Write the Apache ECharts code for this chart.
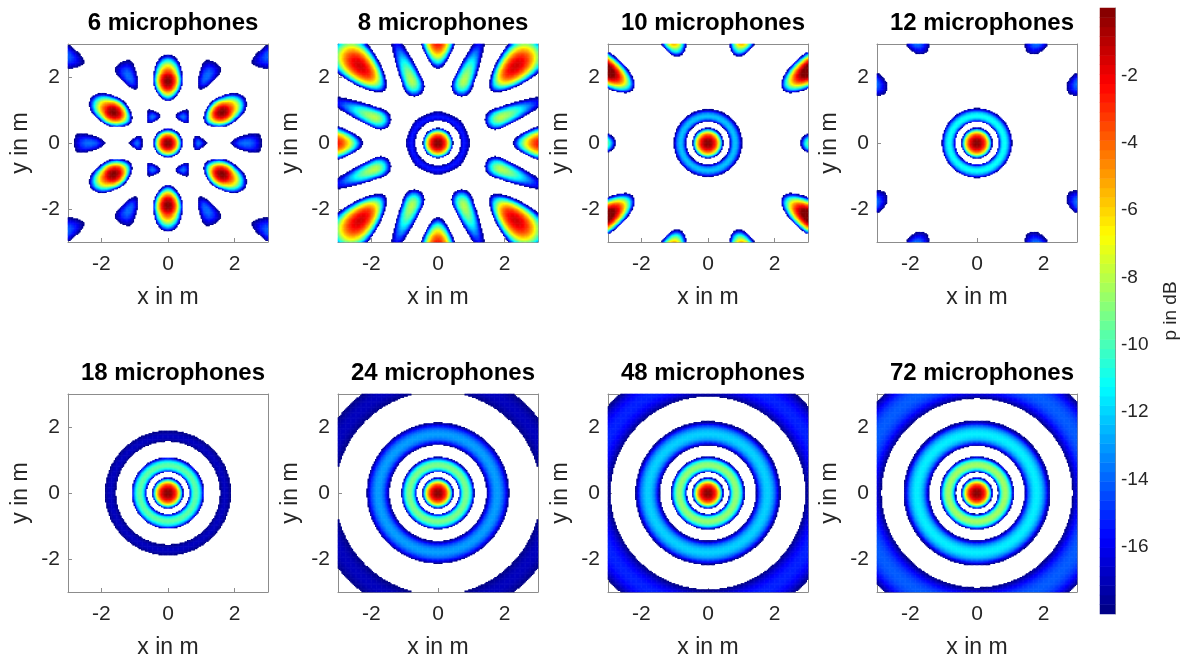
<!DOCTYPE html>
<html><head><meta charset="utf-8">
<script src="https://cdn.jsdelivr.net/npm/echarts@6/dist/echarts.min.js"></script>
<style>html,body{margin:0;padding:0;background:#fff}#c{width:1200px;height:664px}</style>
</head><body><div id="c"></div>
<script>
// ---- data / parameters ----
const mics       = [6, 8, 10, 12, 18, 24, 48, 72];
const titles     = ['6 microphones','8 microphones','10 microphones','12 microphones','18 microphones','24 microphones','48 microphones','72 microphones'];
const ringAtten  = [25, 11, 6.3, 4.5, 2.3, 1.4, 0.9, 0.6];  // ring attenuation coefficient (dB)
const ringExp    = [2, 2, 2, 2, 1.8, 1, 1, 1];
const aliasSharp = [2.3, 2.2, 3.5, 2.3, 0, 0, 0, 0];       // 0 = no aliasing lobes
const aliasOffset= [0, 1, 11, 5, 0, 0, 0, 0];              // dB
const micRotation= [0, 22.5, 0, 15, 0, 0, 0, 0];           // degrees
// radial positions (m) read off the 72-microphone panel and the matching field phase
const ringRadii  = [0, 0.45, 0.65, 1.1, 1.5, 2.15, 2.9, 4.3];
const ringPhase  = [0, 2.1, 2.7, 5.1, 6.1, 8.0, 9.3, 11.3];
const axisTicks  = [-2, 0, 2];
const cbTicks    = [-16, -14, -12, -10, -8, -6, -4, -2];
const dbRange    = [-18, 0];
const gridN = 161, extent = 3;

function J0(x){
  const ax=Math.abs(x);
  if(ax<8){
    const y=x*x;
    const a1=57568490574.0+y*(-13362590354.0+y*(651619640.7+y*(-11214424.18+y*(77392.33017+y*(-184.9052456)))));
    const a2=57568490411.0+y*(1029532985.0+y*(9494680.718+y*(59272.64853+y*(267.8532712+y*1.0))));
    return a1/a2;
  }
  const z=8/ax, y=z*z, xx=ax-0.785398164;
  const b1=1.0+y*(-0.1098628627e-2+y*(0.2734510407e-4+y*(-0.2073370639e-5+y*0.2093887211e-6)));
  const b2=-0.1562499995e-1+y*(0.1430488765e-3+y*(-0.6911147651e-5+y*(0.7621095161e-6-y*0.934935152e-7)));
  return Math.sqrt(0.636619772/ax)*(Math.cos(xx)*b1-z*Math.sin(xx)*b2);
}
function phaseAt(r){
  for(let i=1;i<ringRadii.length;i++){
    if(r<=ringRadii[i]){const t=(r-ringRadii[i-1])/(ringRadii[i]-ringRadii[i-1]);return ringPhase[i-1]+t*(ringPhase[i]-ringPhase[i-1]);}
  }
  return ringPhase[ringPhase.length-1];
}

function field(k){
  const N=mics[k], c=ringAtten[k], q=ringExp[k], G=aliasSharp[k], off=aliasOffset[k], rot=micRotation[k]*Math.PI/180;
  const out=[], step=2*extent/(gridN-1);
  for(let j=0;j<gridN;j++){
    const y=-extent+j*step;
    for(let i=0;i<gridN;i++){
      const x=-extent+i*step;
      const r=Math.hypot(x,y), th=Math.atan2(y,x);
      const s=phaseAt(r);
      const J=J0(s);
      const g=Math.pow(10,-c*Math.pow(r,q)/20);
      let amp=Math.abs(g*J);
      if(G>0 && s>2.4){
        let pr=0, pi=0;
        for(let n=0;n<N;n++){const ph=s*Math.cos(th-rot-2*Math.PI*n/N);pr+=Math.cos(ph);pi+=Math.sin(ph);}
        const a=Math.hypot(pr,pi)/N;
        const adb=G*20*Math.log10(a+1e-12)+off;
        amp=Math.max(amp,Math.pow(10,adb/20));
      }
      let db=20*Math.log10(amp+1e-12);
      if(db<dbRange[0]) continue;
      if(db>dbRange[1]) db=dbRange[1];
      out.push([i,j,db]);
    }
  }
  return out;
}

const cats=[]; for(let i=0;i<gridN;i++) cats.push(i);
const lefts=[68,338,608,877], tops=[44,394], W=200, H=198;
const font='Liberation Sans, Arial, sans-serif';
const txt='#262626', lineC='#8c8c8c';
const grids=[], xAxes=[], yAxes=[], series=[], titleArr=[];
for(let k=0;k<8;k++){
  const L=lefts[k%4], T=tops[Math.floor(k/4)];
  grids.push({left:L, top:T, width:W, height:H});
  titleArr.push({text:titles[k], left:L+W/2, top:T-38, textAlign:'center',
    textStyle:{fontFamily:font,fontSize:24,fontWeight:'bold',color:'#000'}});
  xAxes.push({type:'category',gridIndex:k,data:cats,position:'top',axisLabel:{show:false},axisTick:{show:false},
    axisLine:{show:true,onZero:false,lineStyle:{color:lineC}},splitLine:{show:false}});
  yAxes.push({type:'category',gridIndex:k,data:cats,position:'right',axisLabel:{show:false},axisTick:{show:false},
    axisLine:{show:true,onZero:false,lineStyle:{color:lineC}},splitLine:{show:false}});
  xAxes.push({type:'value',gridIndex:k,min:-3,max:3,position:'bottom',
    name:'x in m',nameLocation:'middle',nameGap:44,nameTextStyle:{fontFamily:font,fontSize:23,color:txt},
    axisLine:{show:true,onZero:false,lineStyle:{color:lineC}},
    axisTick:{show:true,inside:true,length:4,customValues:axisTicks,lineStyle:{color:lineC}},
    axisLabel:{fontFamily:font,fontSize:21,color:txt,margin:12,customValues:axisTicks},splitLine:{show:false}});
  yAxes.push({type:'value',gridIndex:k,min:-3,max:3,position:'left',
    name:'y in m',nameLocation:'middle',nameGap:36,nameTextStyle:{fontFamily:font,fontSize:23,color:txt},
    axisLine:{show:true,onZero:false,lineStyle:{color:lineC}},
    axisTick:{show:true,inside:true,length:4,customValues:axisTicks,lineStyle:{color:lineC}},
    axisLabel:{fontFamily:font,fontSize:21,color:txt,margin:8,customValues:axisTicks},splitLine:{show:false}});
  series.push({type:'heatmap',xAxisIndex:2*k,yAxisIndex:2*k,data:field(k),progressive:0,animation:false,emphasis:{disabled:true}});
}
// colorbar
const cbN=64, cbCats=[], cbData=[];
for(let j=0;j<cbN;j++){cbCats.push(j);cbData.push([0,j,dbRange[0]+(dbRange[1]-dbRange[0])*(j+0.5)/cbN]);}
grids.push({left:1100,top:8,width:15,height:606});
xAxes.push({type:'category',gridIndex:8,data:[0],show:false});
yAxes.push({type:'category',gridIndex:8,data:cbCats,show:false});
yAxes.push({type:'value',gridIndex:8,min:dbRange[0],max:dbRange[1],position:'right',
  axisLine:{show:true,onZero:false,lineStyle:{color:lineC}},
  axisTick:{show:true,inside:true,length:4,customValues:cbTicks,lineStyle:{color:'#444'}},
  axisLabel:{fontFamily:font,fontSize:19,color:txt,margin:6,customValues:cbTicks},
  splitLine:{show:false},
  name:'p in dB',nameLocation:'middle',nameGap:46,nameRotate:90,nameTextStyle:{fontFamily:font,fontSize:19,color:txt}});
series.push({type:'heatmap',xAxisIndex:16,yAxisIndex:16,data:cbData,progressive:0,animation:false});

const jet=['#000080','#0000FF','#0080FF','#00FFFF','#80FF80','#FFFF00','#FF8000','#FF0000','#800000'];
const chart=echarts.init(document.getElementById('c'),null,{renderer:'canvas'});
chart.setOption({
  animation:false, backgroundColor:'#fff',
  title:titleArr, grid:grids, xAxis:xAxes, yAxis:yAxes, series:series,
  visualMap:{type:'continuous',min:dbRange[0],max:dbRange[1],show:false,seriesIndex:series.map((_,i)=>i),
    inRange:{color:jet}}
});
</script></body></html>
